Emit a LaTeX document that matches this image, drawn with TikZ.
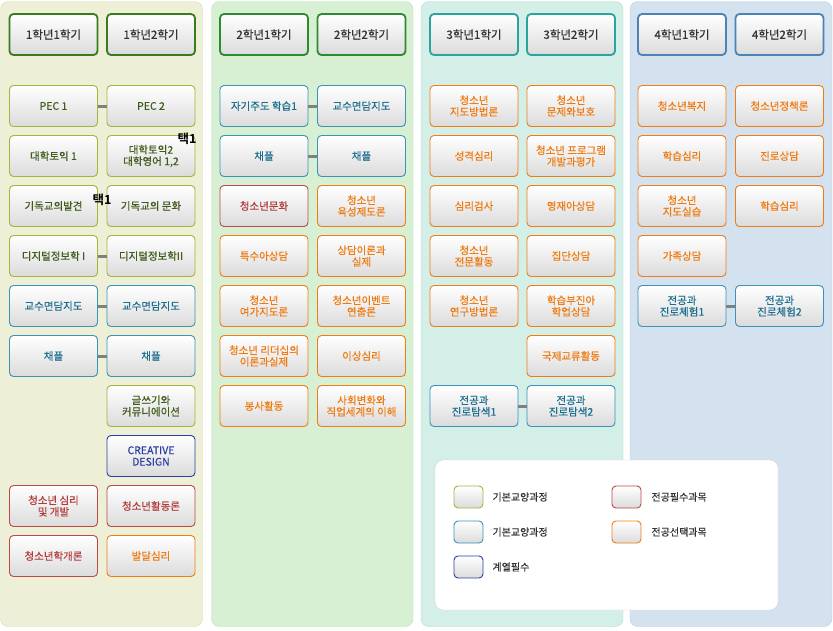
\documentclass[tikz,border=0pt]{standalone}
\usepackage{fontspec}
\setmainfont{Noto Sans CJK KR}[FakeBold=0.4]
\newfontfamily\pickfont{Noto Sans CJK KR Bold}
\definecolor{oliveln}{HTML}{A8B33C}
\definecolor{olivetx}{HTML}{3E5B1B}
\definecolor{tealln}{HTML}{3B93B8}
\definecolor{tealtx}{HTML}{1C6E8E}
\definecolor{navyln}{HTML}{2B3FA3}
\definecolor{redln}{HTML}{B94A48}
\definecolor{redtx}{HTML}{B23B3B}
\definecolor{orangeln}{HTML}{F07D14}
\definecolor{orangetx}{HTML}{EF7A10}
\definecolor{bgone}{HTML}{EDEFD6}
\definecolor{bgonel}{HTML}{D6DCB0}
\definecolor{bgtwo}{HTML}{D7F0D3}
\definecolor{bgtwol}{HTML}{B6E2AE}
\definecolor{bgthree}{HTML}{D4EEE8}
\definecolor{bgthreel}{HTML}{AFDAD2}
\definecolor{bgfour}{HTML}{D4E2EF}
\definecolor{bgfourl}{HTML}{B8CCDD}
\definecolor{hdone}{HTML}{3C7A1E}
\definecolor{hdtwo}{HTML}{2F8A2F}
\definecolor{hdthree}{HTML}{2BA39E}
\definecolor{hdfour}{HTML}{4D82B2}
\begin{document}
\begin{tikzpicture}[x=1pt,y=1pt,yscale=-1,xscale=1,
  course/.style={rounded corners=4pt,minimum width=88pt,minimum height=41pt,
    top color=white,bottom color=black!14,line width=0.9pt,align=center,
    inner sep=1pt,font=\fontsize{10.5}{11.5}\selectfont},
  basic/.style={course,draw=oliveln,text=olivetx},
  common/.style={course,draw=tealln,text=tealtx},
  field/.style={course,draw=navyln,text=navyln},
  major/.style={course,draw=redln,text=redtx},
  elective/.style={course,draw=orangeln,text=orangetx},
  term/.style={course,line width=1.8pt,text=black!80,font=\fontsize{11.5}{13}\selectfont},
  link/.style={draw=black!50,line width=3pt},
  pick/.style={font=\fontsize{12.5}{13}\selectfont\pickfont,inner sep=0pt},
  keybox/.style={rounded corners=4pt,minimum width=29pt,minimum height=22pt,
    top color=white,bottom color=black!14,line width=0.9pt},
  keytext/.style={anchor=west,text=black!80,font=\fontsize{10}{12}\selectfont}]
\useasboundingbox (0,0) rectangle (833,630);

%Panels
\draw [draw=bgonel,fill=bgone,rounded corners=8pt] (0.5,1.5) rectangle (202.5,626.5);
\draw [draw=bgtwol,fill=bgtwo,rounded corners=8pt] (211.5,1.5) rectangle (413,626.5);
\draw [draw=bgthreel,fill=bgthree,rounded corners=8pt] (421,1.5) rectangle (623,626.5);
\draw [draw=bgfourl,fill=bgfour,rounded corners=8pt] (630,1.5) rectangle (832,626.5);

%Terms
\node [term,draw=hdone] (t11) at (53.5,34.5) {1학년1학기};
\node [term,draw=hdone] (t12) at (151,34.5) {1학년2학기};
\node [term,draw=hdtwo] (t21) at (264,34.5) {2학년1학기};
\node [term,draw=hdtwo] (t22) at (361.5,34.5) {2학년2학기};
\node [term,draw=hdthree] (t31) at (474,34.5) {3학년1학기};
\node [term,draw=hdthree] (t32) at (571,34.5) {3학년2학기};
\node [term,draw=hdfour] (t41) at (682,34.5) {4학년1학기};
\node [term,draw=hdfour] (t42) at (779.5,34.5) {4학년2학기};

%Year 1
\node [basic] (pec1) at (53.5,106) {PEC 1};
\node [basic] (toeic1) at (53.5,156) {대학토익 1};
\node [basic] (faith1) at (53.5,206) {기독교의발견};
\node [basic] (digit1) at (53.5,256) {디지털정보학 I};
\node [common] (meet11) at (53.5,306) {교수면담지도};
\node [common] (chapel11) at (53.5,356) {채플};
\node [major] (youthpsy) at (53.5,506) {청소년 심리\\및 개발};
\node [major] (youthintro) at (53.5,556) {청소년학개론};
\node [basic] (pec2) at (151,106) {PEC 2};
\node [basic] (toeic2) at (151,156) {대학토익2\\대학영어 1,2};
\node [basic] (faith2) at (151,206) {기독교의 문화};
\node [basic] (digit2) at (151,256) {디지털정보학II};
\node [common] (meet12) at (151,306) {교수면담지도};
\node [common] (chapel12) at (151,356) {채플};
\node [basic] (writing) at (151,406) {글쓰기와\\커뮤니에이션};
\node [field] (creative) at (151,456) {CREATIVE\\DESIGN};
\node [major] (youthact) at (151,506) {청소년활동론};
\node [elective] (develop) at (151,556) {발달심리};
\node [pick] (pick1) at (187,139) {택1};
\node [pick] (pick2) at (102,200) {택1};
\draw [link] (pec1) -- (pec2);
\draw [link] (digit1) -- (digit2);
\draw [link] (meet11) -- (meet12);
\draw [link] (chapel11) -- (chapel12);

%Year 2
\node [common] (self) at (264,106) {자기주도 학습1};
\node [common] (chapel21) at (264,156) {채플};
\node [major] (culture) at (264,206) {청소년문화};
\node [elective] (special) at (264,256) {특수아상담};
\node [elective] (leisure) at (264,306) {청소년\\여가지도론};
\node [elective] (leader) at (264,356) {청소년 리더십의\\이론과실제};
\node [elective] (service) at (264,406) {봉사활동};
\node [common] (meet22) at (361.5,106) {교수면담지도};
\node [common] (chapel22) at (361.5,156) {채플};
\node [elective] (policy2) at (361.5,206) {청소년\\육성제도론};
\node [elective] (counsel) at (361.5,256) {상담이론과\\실제};
\node [elective] (event) at (361.5,306) {청소년이벤트\\연출론};
\node [elective] (abnormal) at (361.5,356) {이상심리};
\node [elective] (society) at (361.5,406) {사회변화와\\직업세계의 이해};
\draw [link] (self) -- (meet22);
\draw [link] (chapel21) -- (chapel22);

%Year 3
\node [elective] (method) at (474,106) {청소년\\지도방법론};
\node [elective] (persona) at (474,156) {성격심리};
\node [elective] (test) at (474,206) {심리검사};
\node [elective] (expert) at (474,256) {청소년\\전문활동};
\node [elective] (research) at (474,306) {청소년\\연구방법론};
\node [common] (explore1) at (474,406) {전공과\\진로탐색1};
\node [elective] (problem) at (571,106) {청소년\\문제와보호};
\node [elective] (program) at (571,156) {청소년 프로그램\\개발과평가};
\node [elective] (gifted) at (571,206) {영재아상담};
\node [elective] (group) at (571,256) {집단상담};
\node [elective] (slow) at (571,306) {학습부진아\\학업상담};
\node [elective] (exchange) at (571,356) {국제교류활동};
\node [common] (explore2) at (571,406) {전공과\\진로탐색2};
\draw [link] (explore1) -- (explore2);

%Year 4
\node [elective] (welfare) at (682,106) {청소년복지};
\node [elective] (learn41) at (682,156) {학습심리};
\node [elective] (practice) at (682,206) {청소년\\지도실습};
\node [elective] (family) at (682,256) {가족상담};
\node [common] (career1) at (682,306) {전공과\\진로체험1};
\node [elective] (policy4) at (779.5,106) {청소년정책론};
\node [elective] (path) at (779.5,156) {진로상담};
\node [elective] (learn42) at (779.5,206) {학습심리};
\node [common] (career2) at (779.5,306) {전공과\\진로체험2};
\draw [link] (career1) -- (career2);

%Legend
\draw [draw=black!18,fill=white,rounded corners=8pt] (435,460) rectangle (778,610);
\node [keybox,draw=oliveln] (key1) at (468.5,497) {};
\node [keytext] (key1t) at (489,497) {기본교양과정};
\node [keybox,draw=tealln] (key2) at (468.5,532) {};
\node [keytext] (key2t) at (489,532) {기본교양과정};
\node [keybox,draw=navyln] (key3) at (468.5,567) {};
\node [keytext] (key3t) at (489,567) {계열필수};
\node [keybox,draw=redln] (key4) at (626.5,497) {};
\node [keytext] (key4t) at (648,497) {전공필수과목};
\node [keybox,draw=orangeln] (key5) at (626.5,532) {};
\node [keytext] (key5t) at (648,532) {전공선택과목};

\end{tikzpicture}
\end{document}
